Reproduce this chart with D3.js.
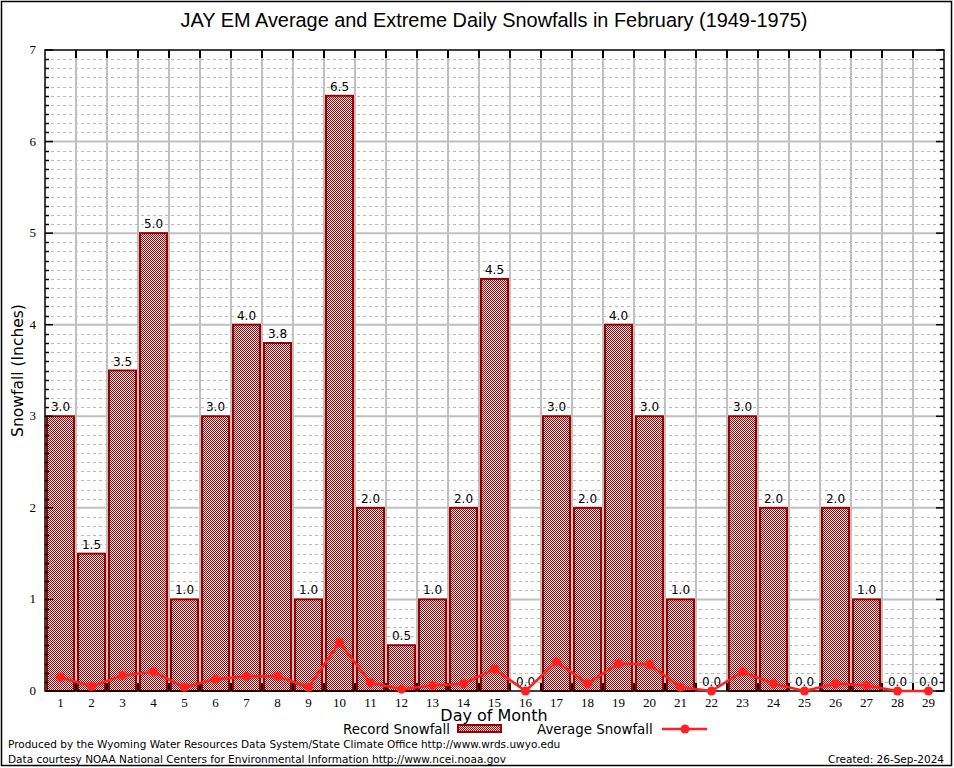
<!DOCTYPE html>
<html>
<head>
<meta charset="utf-8">
<script src="https://cdn.jsdelivr.net/npm/d3@7"></script>
<style>
  body { margin: 0; background: #fff; }
  svg { display: block; }
</style>
</head>
<body>
<svg id="chart" width="954" height="768"></svg>
<script>
// data
var days = d3.range(1, 30).map(String);
var recordSnow = [3.0, 1.5, 3.5, 5.0, 1.0, 3.0, 4.0, 3.8, 1.0, 6.5,
                  2.0, 0.5, 1.0, 2.0, 4.5, 0.0, 3.0, 2.0, 4.0, 3.0,
                  1.0, 0.0, 3.0, 2.0, 0.0, 2.0, 1.0, 0.0, 0.0];
var avgSnow = [0.15, 0.05, 0.17, 0.21, 0.04, 0.13, 0.16, 0.16, 0.04, 0.53,
               0.09, 0.02, 0.06, 0.08, 0.24, 0.0, 0.32, 0.08, 0.30, 0.29,
               0.04, 0.0, 0.21, 0.08, 0.0, 0.08, 0.06, 0.0, 0.0];
var yTicks = [0, 1, 2, 3, 4, 5, 6, 7];

var svg = d3.select("#chart");
// plot box (don't use "top" here, it clashes with window.top)
var pLeft = 45, pRight = 944, pTop = 50, pBottom = 691;

var x = d3.scaleBand().domain(days).range([pLeft, pRight]).paddingInner(0.13).paddingOuter(0.065);
var xb = d3.scaleLinear().domain([0, days.length]).range([pLeft, pRight]); // band edges
var y = d3.scaleLinear().domain([0, 7]).range([pBottom, pTop]);

// checker pattern for bars
var defs = svg.append("defs");
var pat = defs.append("pattern").attr("id", "checker")
	.attr("width", 2).attr("height", 2).attr("patternUnits", "userSpaceOnUse");
pat.append("rect").attr("width", 2).attr("height", 2).attr("fill", "#fff");
pat.append("rect").attr("width", 1).attr("height", 1).attr("fill", "#a80000");
pat.append("rect").attr("x", 1).attr("y", 1).attr("width", 1).attr("height", 1).attr("fill", "#a80000");

// outer border
svg.append("rect").attr("x", 1.5).attr("y", 1.5).attr("width", 950).attr("height", 764)
	.attr("fill", "#fff").attr("stroke", "#000").attr("stroke-width", 1.5);

// title
svg.append("text").attr("x", 494).attr("y", 27).attr("text-anchor", "middle")
	.style("font-family", "Liberation Sans, Arial, sans-serif").style("font-size", "19.9px")
	.text("JAY EM Average and Extreme Daily Snowfalls in February (1949-1975)");

var grid = svg.append("g");
// minor dashed grid
var minor = d3.range(0, 70).map(function(d) { return d / 10; }).filter(function(d) { return d % 1 !== 0; });
grid.selectAll("line.minor").data(minor).enter().append("line")
	.attr("x1", pLeft).attr("x2", pRight)
	.attr("y1", function(d) { return Math.round(y(d)) + 0.5; })
	.attr("y2", function(d) { return Math.round(y(d)) + 0.5; })
	.attr("stroke", "#b8b8b8").attr("stroke-width", 1).attr("stroke-dasharray", "3,3");
// major grid
grid.selectAll("line.major").data(yTicks.slice(1, -1)).enter().append("line")
	.attr("x1", pLeft).attr("x2", pRight)
	.attr("y1", function(d) { return y(d); }).attr("y2", function(d) { return y(d); })
	.attr("stroke", "#c0c0c0").attr("stroke-width", 2);
grid.selectAll("line.vert").data(d3.range(1, days.length)).enter().append("line")
	.attr("x1", function(d) { return xb(d); }).attr("x2", function(d) { return xb(d); })
	.attr("y1", pTop).attr("y2", pBottom)
	.attr("stroke", "#c0c0c0").attr("stroke-width", 2);

// bars
svg.append("g").selectAll("rect").data(recordSnow).enter().append("rect")
	.attr("x", function(d, i) { return x(days[i]); })
	.attr("width", x.bandwidth())
	.attr("y", function(d) { return y(d); })
	.attr("height", function(d) { return pBottom - y(d); })
	.attr("fill", "url(#checker)").attr("stroke", "#990000").attr("stroke-width", 2);

// bar value labels
svg.append("g").selectAll("text").data(recordSnow).enter().append("text")
	.attr("x", function(d, i) { return x(days[i]) + x.bandwidth() / 2; })
	.attr("y", function(d) { return y(d) - 5; })
	.attr("text-anchor", "middle")
	.style("font-family", "DejaVu Sans, sans-serif").style("font-size", "12px")
	.text(function(d) { return d.toFixed(1); });

// frame and ticks
var ax = svg.append("g").attr("stroke", "#000");
ax.selectAll("line.ml").data(minor).enter().append("line")
	.attr("x1", pLeft).attr("x2", pLeft + 4)
	.attr("y1", function(d) { return Math.round(y(d)) + 0.5; })
	.attr("y2", function(d) { return Math.round(y(d)) + 0.5; }).attr("stroke-width", 1.5);
ax.selectAll("line.mr").data(minor).enter().append("line")
	.attr("x1", pRight - 4).attr("x2", pRight)
	.attr("y1", function(d) { return Math.round(y(d)) + 0.5; })
	.attr("y2", function(d) { return Math.round(y(d)) + 0.5; }).attr("stroke-width", 1.5);
ax.selectAll("line.Ml").data(yTicks).enter().append("line")
	.attr("x1", pLeft).attr("x2", pLeft + 8)
	.attr("y1", function(d) { return y(d); }).attr("y2", function(d) { return y(d); }).attr("stroke-width", 1.5);
ax.selectAll("line.Mr").data(yTicks).enter().append("line")
	.attr("x1", pRight - 8).attr("x2", pRight)
	.attr("y1", function(d) { return y(d); }).attr("y2", function(d) { return y(d); }).attr("stroke-width", 1.5);
ax.selectAll("line.tt").data(d3.range(1, days.length)).enter().append("line")
	.attr("x1", function(d) { return xb(d); }).attr("x2", function(d) { return xb(d); })
	.attr("y1", pTop).attr("y2", pTop + 8).attr("stroke-width", 2);
ax.selectAll("line.tb").data(d3.range(1, days.length)).enter().append("line")
	.attr("x1", function(d) { return xb(d); }).attr("x2", function(d) { return xb(d); })
	.attr("y1", pBottom - 8).attr("y2", pBottom).attr("stroke-width", 2);
ax.append("rect").attr("x", pLeft).attr("y", pTop).attr("width", pRight - pLeft).attr("height", pBottom - pTop)
	.attr("fill", "none").attr("stroke-width", 1.5);

// tick labels
svg.append("g").selectAll("text").data(yTicks).enter().append("text")
	.attr("x", 36).attr("y", function(d) { return y(d) + 4; })
	.attr("text-anchor", "end")
	.style("font-family", "Liberation Serif, Times New Roman, serif").style("font-size", "13px")
	.text(function(d) { return d; });
svg.append("g").selectAll("text").data(days).enter().append("text")
	.attr("x", function(d) { return x(d) + x.bandwidth() / 2; }).attr("y", 707)
	.attr("text-anchor", "middle")
	.style("font-family", "Liberation Serif, Times New Roman, serif").style("font-size", "13px")
	.text(function(d) { return d; });

// average line
var line = d3.line()
	.x(function(d, i) { return x(days[i]) + x.bandwidth() / 2; })
	.y(function(d) { return y(d); });
svg.append("path").datum(avgSnow).attr("d", line)
	.attr("fill", "none").attr("stroke", "#ff2020").attr("stroke-width", 2.6);
svg.append("g").selectAll("circle").data(avgSnow).enter().append("circle")
	.attr("cx", function(d, i) { return x(days[i]) + x.bandwidth() / 2; })
	.attr("cy", function(d) { return y(d); })
	.attr("r", 4.5).attr("fill", "#ff2020");

// axis titles
svg.append("text").attr("transform", "translate(23," + ((pTop + pBottom) / 2) + ") rotate(-90)")
	.attr("text-anchor", "middle")
	.style("font-family", "DejaVu Sans, sans-serif").style("font-size", "15.5px")
	.text("Snowfall (Inches)");
svg.append("text").attr("x", 494).attr("y", 721).attr("text-anchor", "middle")
	.style("font-family", "DejaVu Sans, sans-serif").style("font-size", "16px")
	.text("Day of Month");

// legend
var lg = svg.append("g").style("font-family", "DejaVu Sans, sans-serif").style("font-size", "13.4px");
lg.append("text").attr("x", 343).attr("y", 734).text("Record Snowfall");
lg.append("rect").attr("x", 458).attr("y", 725).attr("width", 43).attr("height", 7)
	.attr("fill", "url(#checker)").attr("stroke", "#990000").attr("stroke-width", 2);
lg.append("text").attr("x", 537).attr("y", 734).text("Average Snowfall");
lg.append("line").attr("x1", 662).attr("x2", 707).attr("y1", 729).attr("y2", 729)
	.attr("stroke", "#ff2020").attr("stroke-width", 2.6);
lg.append("circle").attr("cx", 685).attr("cy", 729).attr("r", 4.5).attr("fill", "#ff2020");

// footer
var ft = svg.append("g").style("font-family", "DejaVu Sans, sans-serif").style("font-size", "10.5px");
ft.append("text").attr("x", 8).attr("y", 748)
	.text("Produced by the Wyoming Water Resources Data System/State Climate Office http://www.wrds.uwyo.edu");
ft.append("text").attr("x", 8).attr("y", 763)
	.text("Data courtesy NOAA National Centers for Environmental Information http://www.ncei.noaa.gov");
ft.append("text").attr("x", 944).attr("y", 763).attr("text-anchor", "end")
	.text("Created: 26-Sep-2024");
</script>
</body>
</html>
